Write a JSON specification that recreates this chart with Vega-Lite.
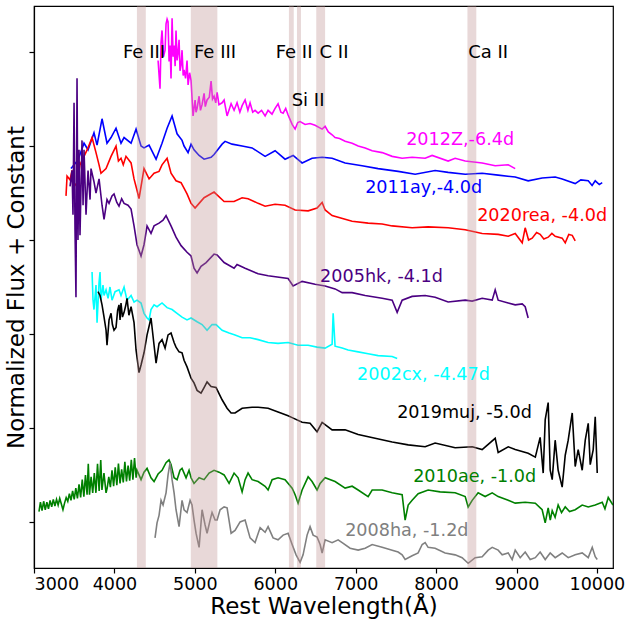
{
  "$schema": "https://vega.github.io/schema/vega-lite/v6.json",
  "width": 579,
  "height": 562,
  "autosize": {"type": "none"},
  "padding": {"left": 34, "top": 6, "right": 14, "bottom": 54},
  "background": "white",
  "config": {
    "view": {"stroke": "black", "strokeWidth": 1.2},
    "font": "DejaVu Sans",
    "axis": {"grid": false, "domainColor": "black", "tickColor": "black", "labelColor": "black", "titleColor": "black", "labelFont": "DejaVu Sans", "titleFont": "DejaVu Sans", "titleFontWeight": "normal", "domainWidth": 1.2, "tickWidth": 1.2, "tickSize": 5}
  },
  "datasets": {
    "spec": [
      {"s":"2012Z","w":4543,"f":4.91},{"s":"2012Z","w":4567,"f":4.61},{"s":"2012Z","w":4580,"f":5.10},{"s":"2012Z","w":4592,"f":5.23},{"s":"2012Z","w":4610,"f":4.95},{"s":"2012Z","w":4630,"f":5.02},{"s":"2012Z","w":4642,"f":5.30},{"s":"2012Z","w":4655,"f":5.35},{"s":"2012Z","w":4667,"f":5.32},{"s":"2012Z","w":4680,"f":4.90},{"s":"2012Z","w":4692,"f":5.07},{"s":"2012Z","w":4704,"f":4.72},{"s":"2012Z","w":4717,"f":5.36},{"s":"2012Z","w":4730,"f":4.95},{"s":"2012Z","w":4742,"f":5.07},{"s":"2012Z","w":4755,"f":4.85},{"s":"2012Z","w":4766,"f":5.23},{"s":"2012Z","w":4779,"f":4.91},{"s":"2012Z","w":4790,"f":4.98},{"s":"2012Z","w":4804,"f":5.13},{"s":"2012Z","w":4816,"f":4.80},{"s":"2012Z","w":4829,"f":4.86},{"s":"2012Z","w":4841,"f":5.02},{"s":"2012Z","w":4855,"f":4.75},{"s":"2012Z","w":4866,"f":4.81},{"s":"2012Z","w":4885,"f":4.72},{"s":"2012Z","w":4903,"f":4.91},{"s":"2012Z","w":4916,"f":4.65},{"s":"2012Z","w":4935,"f":4.78},{"s":"2012Z","w":4953,"f":4.70},{"s":"2012Z","w":4978,"f":4.32},{"s":"2012Z","w":5003,"f":4.49},{"s":"2012Z","w":5015,"f":4.36},{"s":"2012Z","w":5028,"f":4.40},{"s":"2012Z","w":5053,"f":4.53},{"s":"2012Z","w":5070,"f":4.38},{"s":"2012Z","w":5090,"f":4.44},{"s":"2012Z","w":5115,"f":4.56},{"s":"2012Z","w":5130,"f":4.42},{"s":"2012Z","w":5152,"f":4.49},{"s":"2012Z","w":5180,"f":4.52},{"s":"2012Z","w":5202,"f":4.69},{"s":"2012Z","w":5220,"f":4.50},{"s":"2012Z","w":5239,"f":4.53},{"s":"2012Z","w":5260,"f":4.46},{"s":"2012Z","w":5277,"f":4.57},{"s":"2012Z","w":5300,"f":4.44},{"s":"2012Z","w":5339,"f":4.46},{"s":"2012Z","w":5364,"f":4.49},{"s":"2012Z","w":5401,"f":4.32},{"s":"2012Z","w":5451,"f":4.45},{"s":"2012Z","w":5488,"f":4.38},{"s":"2012Z","w":5525,"f":4.46},{"s":"2012Z","w":5560,"f":4.36},{"s":"2012Z","w":5588,"f":4.43},{"s":"2012Z","w":5625,"f":4.49},{"s":"2012Z","w":5660,"f":4.38},{"s":"2012Z","w":5687,"f":4.46},{"s":"2012Z","w":5720,"f":4.36},{"s":"2012Z","w":5749,"f":4.38},{"s":"2012Z","w":5787,"f":4.35},{"s":"2012Z","w":5830,"f":4.38},{"s":"2012Z","w":5874,"f":4.32},{"s":"2012Z","w":5911,"f":4.38},{"s":"2012Z","w":5960,"f":4.34},{"s":"2012Z","w":5998,"f":4.40},{"s":"2012Z","w":6035,"f":4.45},{"s":"2012Z","w":6070,"f":4.36},{"s":"2012Z","w":6098,"f":4.35},{"s":"2012Z","w":6130,"f":4.40},{"s":"2012Z","w":6160,"f":4.33},{"s":"2012Z","w":6210,"f":4.23},{"s":"2012Z","w":6247,"f":4.18},{"s":"2012Z","w":6280,"f":4.25},{"s":"2012Z","w":6309,"f":4.26},{"s":"2012Z","w":6371,"f":4.23},{"s":"2012Z","w":6433,"f":4.24},{"s":"2012Z","w":6495,"f":4.22},{"s":"2012Z","w":6583,"f":4.18},{"s":"2012Z","w":6620,"f":4.21},{"s":"2012Z","w":6660,"f":4.15},{"s":"2012Z","w":6707,"f":4.12},{"s":"2012Z","w":6744,"f":4.09},{"s":"2012Z","w":6800,"f":4.08},{"s":"2012Z","w":6869,"f":4.05},{"s":"2012Z","w":6956,"f":4.03},{"s":"2012Z","w":7031,"f":4.00},{"s":"2012Z","w":7118,"f":3.98},{"s":"2012Z","w":7205,"f":3.95},{"s":"2012Z","w":7329,"f":3.93},{"s":"2012Z","w":7454,"f":3.89},{"s":"2012Z","w":7578,"f":3.87},{"s":"2012Z","w":7702,"f":3.88},{"s":"2012Z","w":7864,"f":3.87},{"s":"2012Z","w":7951,"f":3.90},{"s":"2012Z","w":8150,"f":3.84},{"s":"2012Z","w":8237,"f":3.87},{"s":"2012Z","w":8362,"f":3.84},{"s":"2012Z","w":8573,"f":3.82},{"s":"2012Z","w":8735,"f":3.79},{"s":"2012Z","w":8897,"f":3.80},{"s":"2012Z","w":8984,"f":3.76},

      {"s":"2011ay","w":3460,"f":3.76},{"s":"2011ay","w":3547,"f":3.85},{"s":"2011ay","w":3622,"f":4.03},{"s":"2011ay","w":3672,"f":3.96},{"s":"2011ay","w":3746,"f":4.14},{"s":"2011ay","w":3784,"f":4.01},{"s":"2011ay","w":3846,"f":4.29},{"s":"2011ay","w":3908,"f":4.03},{"s":"2011ay","w":3958,"f":4.09},{"s":"2011ay","w":4020,"f":4.19},{"s":"2011ay","w":4082,"f":4.03},{"s":"2011ay","w":4120,"f":4.09},{"s":"2011ay","w":4207,"f":4.03},{"s":"2011ay","w":4269,"f":4.18},{"s":"2011ay","w":4331,"f":4.00},{"s":"2011ay","w":4368,"f":3.98},{"s":"2011ay","w":4431,"f":4.01},{"s":"2011ay","w":4518,"f":3.86},{"s":"2011ay","w":4592,"f":4.03},{"s":"2011ay","w":4655,"f":4.19},{"s":"2011ay","w":4717,"f":4.32},{"s":"2011ay","w":4779,"f":4.13},{"s":"2011ay","w":4841,"f":4.06},{"s":"2011ay","w":4866,"f":4.00},{"s":"2011ay","w":4916,"f":3.93},{"s":"2011ay","w":4953,"f":4.02},{"s":"2011ay","w":4990,"f":3.96},{"s":"2011ay","w":5053,"f":3.90},{"s":"2011ay","w":5115,"f":3.86},{"s":"2011ay","w":5202,"f":3.88},{"s":"2011ay","w":5239,"f":3.91},{"s":"2011ay","w":5339,"f":4.02},{"s":"2011ay","w":5376,"f":4.05},{"s":"2011ay","w":5463,"f":4.02},{"s":"2011ay","w":5588,"f":4.00},{"s":"2011ay","w":5712,"f":3.98},{"s":"2011ay","w":5874,"f":3.89},{"s":"2011ay","w":5998,"f":3.95},{"s":"2011ay","w":6122,"f":3.86},{"s":"2011ay","w":6222,"f":3.90},{"s":"2011ay","w":6334,"f":3.82},{"s":"2011ay","w":6458,"f":3.87},{"s":"2011ay","w":6583,"f":3.88},{"s":"2011ay","w":6707,"f":3.87},{"s":"2011ay","w":6869,"f":3.82},{"s":"2011ay","w":7080,"f":3.79},{"s":"2011ay","w":7279,"f":3.76},{"s":"2011ay","w":7528,"f":3.73},{"s":"2011ay","w":7740,"f":3.70},{"s":"2011ay","w":7988,"f":3.74},{"s":"2011ay","w":8150,"f":3.72},{"s":"2011ay","w":8362,"f":3.70},{"s":"2011ay","w":8573,"f":3.71},{"s":"2011ay","w":8772,"f":3.69},{"s":"2011ay","w":8984,"f":3.67},{"s":"2011ay","w":9145,"f":3.63},{"s":"2011ay","w":9319,"f":3.66},{"s":"2011ay","w":9481,"f":3.67},{"s":"2011ay","w":9568,"f":3.65},{"s":"2011ay","w":9730,"f":3.60},{"s":"2011ay","w":9800,"f":3.64},{"s":"2011ay","w":9892,"f":3.63},{"s":"2011ay","w":9940,"f":3.58},{"s":"2011ay","w":9979,"f":3.63},{"s":"2011ay","w":10030,"f":3.59},{"s":"2011ay","w":10066,"f":3.61},

      {"s":"2020rea","w":3398,"f":3.47},{"s":"2020rea","w":3411,"f":3.68},{"s":"2020rea","w":3448,"f":3.64},{"s":"2020rea","w":3473,"f":3.74},{"s":"2020rea","w":3498,"f":3.57},{"s":"2020rea","w":3535,"f":3.61},{"s":"2020rea","w":3572,"f":3.80},{"s":"2020rea","w":3622,"f":3.89},{"s":"2020rea","w":3672,"f":3.98},{"s":"2020rea","w":3722,"f":4.09},{"s":"2020rea","w":3771,"f":3.93},{"s":"2020rea","w":3809,"f":3.80},{"s":"2020rea","w":3833,"f":3.71},{"s":"2020rea","w":3896,"f":3.76},{"s":"2020rea","w":3958,"f":3.89},{"s":"2020rea","w":4020,"f":4.00},{"s":"2020rea","w":4050,"f":3.84},{"s":"2020rea","w":4082,"f":3.87},{"s":"2020rea","w":4110,"f":3.80},{"s":"2020rea","w":4144,"f":3.89},{"s":"2020rea","w":4207,"f":3.82},{"s":"2020rea","w":4244,"f":3.65},{"s":"2020rea","w":4281,"f":3.53},{"s":"2020rea","w":4306,"f":3.44},{"s":"2020rea","w":4368,"f":3.76},{"s":"2020rea","w":4431,"f":3.65},{"s":"2020rea","w":4493,"f":3.71},{"s":"2020rea","w":4555,"f":3.73},{"s":"2020rea","w":4592,"f":3.80},{"s":"2020rea","w":4655,"f":3.87},{"s":"2020rea","w":4704,"f":3.71},{"s":"2020rea","w":4766,"f":3.63},{"s":"2020rea","w":4829,"f":3.61},{"s":"2020rea","w":4903,"f":3.49},{"s":"2020rea","w":4953,"f":3.39},{"s":"2020rea","w":5003,"f":3.34},{"s":"2020rea","w":5053,"f":3.39},{"s":"2020rea","w":5115,"f":3.45},{"s":"2020rea","w":5239,"f":3.51},{"s":"2020rea","w":5364,"f":3.41},{"s":"2020rea","w":5488,"f":3.41},{"s":"2020rea","w":5588,"f":3.45},{"s":"2020rea","w":5662,"f":3.44},{"s":"2020rea","w":5787,"f":3.39},{"s":"2020rea","w":5874,"f":3.36},{"s":"2020rea","w":5998,"f":3.38},{"s":"2020rea","w":6122,"f":3.37},{"s":"2020rea","w":6247,"f":3.32},{"s":"2020rea","w":6409,"f":3.31},{"s":"2020rea","w":6520,"f":3.34},{"s":"2020rea","w":6583,"f":3.40},{"s":"2020rea","w":6620,"f":3.32},{"s":"2020rea","w":6707,"f":3.26},{"s":"2020rea","w":6869,"f":3.22},{"s":"2020rea","w":6956,"f":3.20},{"s":"2020rea","w":7155,"f":3.18},{"s":"2020rea","w":7329,"f":3.17},{"s":"2020rea","w":7454,"f":3.15},{"s":"2020rea","w":7702,"f":3.13},{"s":"2020rea","w":7901,"f":3.14},{"s":"2020rea","w":8150,"f":3.13},{"s":"2020rea","w":8362,"f":3.11},{"s":"2020rea","w":8573,"f":3.07},{"s":"2020rea","w":8772,"f":3.06},{"s":"2020rea","w":8897,"f":3.04},{"s":"2020rea","w":8984,"f":3.07},{"s":"2020rea","w":9071,"f":2.97},{"s":"2020rea","w":9108,"f":3.13},{"s":"2020rea","w":9150,"f":3.00},{"s":"2020rea","w":9195,"f":3.02},{"s":"2020rea","w":9250,"f":3.08},{"s":"2020rea","w":9294,"f":3.06},{"s":"2020rea","w":9340,"f":3.01},{"s":"2020rea","w":9394,"f":3.03},{"s":"2020rea","w":9440,"f":3.07},{"s":"2020rea","w":9481,"f":3.04},{"s":"2020rea","w":9568,"f":3.02},{"s":"2020rea","w":9606,"f":2.97},{"s":"2020rea","w":9650,"f":3.06},{"s":"2020rea","w":9693,"f":3.05},{"s":"2020rea","w":9730,"f":2.99},

      {"s":"2005hk","w":3448,"f":3.57},{"s":"2005hk","w":3473,"f":3.74},{"s":"2005hk","w":3485,"f":3.27},{"s":"2005hk","w":3498,"f":4.46},{"s":"2005hk","w":3510,"f":3.11},{"s":"2005hk","w":3522,"f":2.39},{"s":"2005hk","w":3535,"f":4.72},{"s":"2005hk","w":3547,"f":3.00},{"s":"2005hk","w":3560,"f":3.96},{"s":"2005hk","w":3572,"f":3.05},{"s":"2005hk","w":3597,"f":4.06},{"s":"2005hk","w":3610,"f":3.37},{"s":"2005hk","w":3622,"f":3.96},{"s":"2005hk","w":3647,"f":3.27},{"s":"2005hk","w":3672,"f":3.74},{"s":"2005hk","w":3697,"f":3.43},{"s":"2005hk","w":3709,"f":3.76},{"s":"2005hk","w":3746,"f":3.62},{"s":"2005hk","w":3771,"f":3.50},{"s":"2005hk","w":3809,"f":3.65},{"s":"2005hk","w":3846,"f":3.37},{"s":"2005hk","w":3871,"f":3.22},{"s":"2005hk","w":3908,"f":3.43},{"s":"2005hk","w":3933,"f":3.39},{"s":"2005hk","w":3970,"f":3.47},{"s":"2005hk","w":3995,"f":3.49},{"s":"2005hk","w":4030,"f":3.40},{"s":"2005hk","w":4057,"f":3.36},{"s":"2005hk","w":4090,"f":3.44},{"s":"2005hk","w":4120,"f":3.39},{"s":"2005hk","w":4169,"f":3.37},{"s":"2005hk","w":4207,"f":3.33},{"s":"2005hk","w":4244,"f":3.15},{"s":"2005hk","w":4281,"f":2.95},{"s":"2005hk","w":4331,"f":2.83},{"s":"2005hk","w":4368,"f":2.95},{"s":"2005hk","w":4406,"f":3.15},{"s":"2005hk","w":4455,"f":3.07},{"s":"2005hk","w":4493,"f":3.15},{"s":"2005hk","w":4555,"f":3.18},{"s":"2005hk","w":4605,"f":3.21},{"s":"2005hk","w":4642,"f":3.26},{"s":"2005hk","w":4704,"f":3.15},{"s":"2005hk","w":4766,"f":3.03},{"s":"2005hk","w":4829,"f":2.94},{"s":"2005hk","w":4903,"f":2.87},{"s":"2005hk","w":4953,"f":2.83},{"s":"2005hk","w":4990,"f":2.70},{"s":"2005hk","w":5028,"f":2.65},{"s":"2005hk","w":5077,"f":2.72},{"s":"2005hk","w":5140,"f":2.76},{"s":"2005hk","w":5239,"f":2.85},{"s":"2005hk","w":5277,"f":2.84},{"s":"2005hk","w":5364,"f":2.76},{"s":"2005hk","w":5488,"f":2.70},{"s":"2005hk","w":5525,"f":2.74},{"s":"2005hk","w":5625,"f":2.70},{"s":"2005hk","w":5787,"f":2.64},{"s":"2005hk","w":5911,"f":2.62},{"s":"2005hk","w":6160,"f":2.59},{"s":"2005hk","w":6222,"f":2.51},{"s":"2005hk","w":6334,"f":2.56},{"s":"2005hk","w":6495,"f":2.53},{"s":"2005hk","w":6620,"f":2.51},{"s":"2005hk","w":6744,"f":2.48},{"s":"2005hk","w":6832,"f":2.44},{"s":"2005hk","w":6956,"f":2.44},{"s":"2005hk","w":7118,"f":2.41},{"s":"2005hk","w":7329,"f":2.38},{"s":"2005hk","w":7454,"f":2.36},{"s":"2005hk","w":7516,"f":2.23},{"s":"2005hk","w":7578,"f":2.36},{"s":"2005hk","w":7702,"f":2.40},{"s":"2005hk","w":7864,"f":2.41},{"s":"2005hk","w":7988,"f":2.39},{"s":"2005hk","w":8150,"f":2.34},{"s":"2005hk","w":8362,"f":2.36},{"s":"2005hk","w":8449,"f":2.35},{"s":"2005hk","w":8573,"f":2.38},{"s":"2005hk","w":8698,"f":2.36},{"s":"2005hk","w":8735,"f":2.47},{"s":"2005hk","w":8772,"f":2.36},{"s":"2005hk","w":8897,"f":2.33},{"s":"2005hk","w":8984,"f":2.31},{"s":"2005hk","w":9071,"f":2.32},{"s":"2005hk","w":9108,"f":2.29},{"s":"2005hk","w":9145,"f":2.17},

      {"s":"2002cx","w":3722,"f":2.66},{"s":"2002cx","w":3734,"f":2.36},{"s":"2002cx","w":3746,"f":2.26},{"s":"2002cx","w":3771,"f":2.52},{"s":"2002cx","w":3784,"f":2.12},{"s":"2002cx","w":3809,"f":2.55},{"s":"2002cx","w":3821,"f":2.66},{"s":"2002cx","w":3833,"f":2.36},{"s":"2002cx","w":3858,"f":2.52},{"s":"2002cx","w":3871,"f":2.41},{"s":"2002cx","w":3896,"f":2.47},{"s":"2002cx","w":3921,"f":2.38},{"s":"2002cx","w":3945,"f":2.50},{"s":"2002cx","w":3970,"f":2.36},{"s":"2002cx","w":4008,"f":2.45},{"s":"2002cx","w":4057,"f":2.47},{"s":"2002cx","w":4082,"f":2.41},{"s":"2002cx","w":4120,"f":2.50},{"s":"2002cx","w":4157,"f":2.36},{"s":"2002cx","w":4207,"f":2.41},{"s":"2002cx","w":4244,"f":2.34},{"s":"2002cx","w":4281,"f":2.36},{"s":"2002cx","w":4331,"f":2.33},{"s":"2002cx","w":4368,"f":2.22},{"s":"2002cx","w":4406,"f":2.17},{"s":"2002cx","w":4431,"f":2.15},{"s":"2002cx","w":4455,"f":2.26},{"s":"2002cx","w":4493,"f":2.31},{"s":"2002cx","w":4530,"f":2.29},{"s":"2002cx","w":4592,"f":2.33},{"s":"2002cx","w":4655,"f":2.28},{"s":"2002cx","w":4717,"f":2.26},{"s":"2002cx","w":4779,"f":2.22},{"s":"2002cx","w":4841,"f":2.18},{"s":"2002cx","w":4903,"f":2.15},{"s":"2002cx","w":4953,"f":2.17},{"s":"2002cx","w":5028,"f":2.13},{"s":"2002cx","w":5090,"f":2.10},{"s":"2002cx","w":5152,"f":2.04},{"s":"2002cx","w":5214,"f":2.10},{"s":"2002cx","w":5264,"f":2.10},{"s":"2002cx","w":5339,"f":2.04},{"s":"2002cx","w":5426,"f":2.01},{"s":"2002cx","w":5500,"f":1.99},{"s":"2002cx","w":5588,"f":1.96},{"s":"2002cx","w":5687,"f":1.96},{"s":"2002cx","w":5787,"f":1.94},{"s":"2002cx","w":5911,"f":1.91},{"s":"2002cx","w":6035,"f":1.90},{"s":"2002cx","w":6160,"f":1.91},{"s":"2002cx","w":6284,"f":1.88},{"s":"2002cx","w":6409,"f":1.88},{"s":"2002cx","w":6520,"f":1.86},{"s":"2002cx","w":6620,"f":1.85},{"s":"2002cx","w":6707,"f":1.89},{"s":"2002cx","w":6720,"f":2.22},{"s":"2002cx","w":6744,"f":1.87},{"s":"2002cx","w":6832,"f":1.85},{"s":"2002cx","w":6906,"f":1.83},{"s":"2002cx","w":7031,"f":1.81},{"s":"2002cx","w":7155,"f":1.79},{"s":"2002cx","w":7279,"f":1.77},{"s":"2002cx","w":7454,"f":1.76},{"s":"2002cx","w":7516,"f":1.74},

      {"s":"2019muj","w":3796,"f":2.45},{"s":"2019muj","w":3821,"f":2.41},{"s":"2019muj","w":3846,"f":2.31},{"s":"2019muj","w":3871,"f":2.18},{"s":"2019muj","w":3896,"f":2.04},{"s":"2019muj","w":3908,"f":1.88},{"s":"2019muj","w":3933,"f":2.15},{"s":"2019muj","w":3958,"f":2.22},{"s":"2019muj","w":3975,"f":2.10},{"s":"2019muj","w":3995,"f":2.04},{"s":"2019muj","w":4020,"f":2.07},{"s":"2019muj","w":4040,"f":2.25},{"s":"2019muj","w":4057,"f":2.31},{"s":"2019muj","w":4070,"f":2.15},{"s":"2019muj","w":4082,"f":2.33},{"s":"2019muj","w":4100,"f":2.18},{"s":"2019muj","w":4120,"f":2.23},{"s":"2019muj","w":4140,"f":2.30},{"s":"2019muj","w":4157,"f":2.38},{"s":"2019muj","w":4180,"f":2.20},{"s":"2019muj","w":4207,"f":2.29},{"s":"2019muj","w":4244,"f":2.12},{"s":"2019muj","w":4269,"f":1.83},{"s":"2019muj","w":4306,"f":1.59},{"s":"2019muj","w":4331,"f":1.67},{"s":"2019muj","w":4368,"f":1.80},{"s":"2019muj","w":4406,"f":1.99},{"s":"2019muj","w":4455,"f":2.17},{"s":"2019muj","w":4493,"f":1.88},{"s":"2019muj","w":4518,"f":1.69},{"s":"2019muj","w":4555,"f":1.90},{"s":"2019muj","w":4592,"f":1.94},{"s":"2019muj","w":4630,"f":1.85},{"s":"2019muj","w":4667,"f":1.99},{"s":"2019muj","w":4704,"f":2.01},{"s":"2019muj","w":4742,"f":1.91},{"s":"2019muj","w":4766,"f":1.86},{"s":"2019muj","w":4804,"f":1.81},{"s":"2019muj","w":4841,"f":1.80},{"s":"2019muj","w":4866,"f":1.72},{"s":"2019muj","w":4903,"f":1.65},{"s":"2019muj","w":4953,"f":1.53},{"s":"2019muj","w":4990,"f":1.48},{"s":"2019muj","w":5028,"f":1.40},{"s":"2019muj","w":5077,"f":1.37},{"s":"2019muj","w":5115,"f":1.43},{"s":"2019muj","w":5152,"f":1.49},{"s":"2019muj","w":5202,"f":1.44},{"s":"2019muj","w":5264,"f":1.43},{"s":"2019muj","w":5339,"f":1.30},{"s":"2019muj","w":5401,"f":1.21},{"s":"2019muj","w":5451,"f":1.16},{"s":"2019muj","w":5500,"f":1.16},{"s":"2019muj","w":5588,"f":1.21},{"s":"2019muj","w":5712,"f":1.22},{"s":"2019muj","w":5787,"f":1.22},{"s":"2019muj","w":5911,"f":1.21},{"s":"2019muj","w":6035,"f":1.17},{"s":"2019muj","w":6160,"f":1.13},{"s":"2019muj","w":6210,"f":1.11},{"s":"2019muj","w":6334,"f":1.06},{"s":"2019muj","w":6433,"f":1.05},{"s":"2019muj","w":6520,"f":0.96},{"s":"2019muj","w":6583,"f":1.06},{"s":"2019muj","w":6707,"f":0.98},{"s":"2019muj","w":6869,"f":0.98},{"s":"2019muj","w":7031,"f":0.93},{"s":"2019muj","w":7242,"f":0.89},{"s":"2019muj","w":7454,"f":0.85},{"s":"2019muj","w":7653,"f":0.82},{"s":"2019muj","w":7864,"f":0.80},{"s":"2019muj","w":7988,"f":0.84},{"s":"2019muj","w":8237,"f":0.79},{"s":"2019muj","w":8449,"f":0.80},{"s":"2019muj","w":8573,"f":0.77},{"s":"2019muj","w":8735,"f":0.89},{"s":"2019muj","w":8772,"f":0.74},{"s":"2019muj","w":8897,"f":0.80},{"s":"2019muj","w":8984,"f":0.77},{"s":"2019muj","w":9145,"f":0.73},{"s":"2019muj","w":9234,"f":0.69},{"s":"2019muj","w":9294,"f":0.90},{"s":"2019muj","w":9332,"f":0.52},{"s":"2019muj","w":9357,"f":1.09},{"s":"2019muj","w":9394,"f":1.27},{"s":"2019muj","w":9419,"f":0.55},{"s":"2019muj","w":9444,"f":0.45},{"s":"2019muj","w":9481,"f":0.87},{"s":"2019muj","w":9518,"f":0.55},{"s":"2019muj","w":9568,"f":0.37},{"s":"2019muj","w":9606,"f":0.71},{"s":"2019muj","w":9643,"f":0.87},{"s":"2019muj","w":9693,"f":1.16},{"s":"2019muj","w":9730,"f":0.59},{"s":"2019muj","w":9767,"f":0.77},{"s":"2019muj","w":9817,"f":0.55},{"s":"2019muj","w":9855,"f":0.87},{"s":"2019muj","w":9892,"f":1.05},{"s":"2019muj","w":9917,"f":0.61},{"s":"2019muj","w":9954,"f":0.77},{"s":"2019muj","w":9979,"f":1.12},{"s":"2019muj","w":10004,"f":0.52},

      {"s":"2010ae","w":3062,"f":0.11},{"s":"2010ae","w":3080,"f":0.21},{"s":"2010ae","w":3100,"f":0.12},{"s":"2010ae","w":3120,"f":0.22},{"s":"2010ae","w":3140,"f":0.13},{"s":"2010ae","w":3160,"f":0.21},{"s":"2010ae","w":3180,"f":0.14},{"s":"2010ae","w":3200,"f":0.23},{"s":"2010ae","w":3220,"f":0.16},{"s":"2010ae","w":3240,"f":0.24},{"s":"2010ae","w":3260,"f":0.17},{"s":"2010ae","w":3280,"f":0.24},{"s":"2010ae","w":3300,"f":0.18},{"s":"2010ae","w":3320,"f":0.25},{"s":"2010ae","w":3340,"f":0.19},{"s":"2010ae","w":3360,"f":0.13},{"s":"2010ae","w":3380,"f":0.20},{"s":"2010ae","w":3400,"f":0.26},{"s":"2010ae","w":3420,"f":0.22},{"s":"2010ae","w":3440,"f":0.30},{"s":"2010ae","w":3460,"f":0.23},{"s":"2010ae","w":3480,"f":0.33},{"s":"2010ae","w":3500,"f":0.24},{"s":"2010ae","w":3520,"f":0.36},{"s":"2010ae","w":3540,"f":0.25},{"s":"2010ae","w":3560,"f":0.40},{"s":"2010ae","w":3580,"f":0.26},{"s":"2010ae","w":3600,"f":0.45},{"s":"2010ae","w":3620,"f":0.27},{"s":"2010ae","w":3640,"f":0.50},{"s":"2010ae","w":3660,"f":0.29},{"s":"2010ae","w":3675,"f":0.62},{"s":"2010ae","w":3690,"f":0.29},{"s":"2010ae","w":3710,"f":0.48},{"s":"2010ae","w":3730,"f":0.31},{"s":"2010ae","w":3750,"f":0.52},{"s":"2010ae","w":3770,"f":0.31},{"s":"2010ae","w":3790,"f":0.62},{"s":"2010ae","w":3810,"f":0.33},{"s":"2010ae","w":3830,"f":0.66},{"s":"2010ae","w":3845,"f":0.34},{"s":"2010ae","w":3870,"f":0.52},{"s":"2010ae","w":3896,"f":0.31},{"s":"2010ae","w":3910,"f":0.36},{"s":"2010ae","w":3930,"f":0.48},{"s":"2010ae","w":3950,"f":0.37},{"s":"2010ae","w":3970,"f":0.55},{"s":"2010ae","w":3990,"f":0.38},{"s":"2010ae","w":4010,"f":0.58},{"s":"2010ae","w":4030,"f":0.39},{"s":"2010ae","w":4050,"f":0.62},{"s":"2010ae","w":4070,"f":0.41},{"s":"2010ae","w":4090,"f":0.56},{"s":"2010ae","w":4110,"f":0.42},{"s":"2010ae","w":4130,"f":0.64},{"s":"2010ae","w":4150,"f":0.43},{"s":"2010ae","w":4170,"f":0.60},{"s":"2010ae","w":4190,"f":0.44},{"s":"2010ae","w":4210,"f":0.66},{"s":"2010ae","w":4230,"f":0.45},{"s":"2010ae","w":4250,"f":0.68},{"s":"2010ae","w":4270,"f":0.47},{"s":"2010ae","w":4281,"f":0.55},{"s":"2010ae","w":4331,"f":0.45},{"s":"2010ae","w":4368,"f":0.53},{"s":"2010ae","w":4406,"f":0.57},{"s":"2010ae","w":4455,"f":0.47},{"s":"2010ae","w":4493,"f":0.43},{"s":"2010ae","w":4543,"f":0.51},{"s":"2010ae","w":4592,"f":0.55},{"s":"2010ae","w":4642,"f":0.63},{"s":"2010ae","w":4679,"f":0.66},{"s":"2010ae","w":4704,"f":0.61},{"s":"2010ae","w":4742,"f":0.47},{"s":"2010ae","w":4779,"f":0.45},{"s":"2010ae","w":4816,"f":0.55},{"s":"2010ae","w":4841,"f":0.57},{"s":"2010ae","w":4891,"f":0.47},{"s":"2010ae","w":4928,"f":0.55},{"s":"2010ae","w":4953,"f":0.47},{"s":"2010ae","w":4990,"f":0.41},{"s":"2010ae","w":5053,"f":0.47},{"s":"2010ae","w":5115,"f":0.45},{"s":"2010ae","w":5177,"f":0.52},{"s":"2010ae","w":5239,"f":0.55},{"s":"2010ae","w":5301,"f":0.53},{"s":"2010ae","w":5364,"f":0.50},{"s":"2010ae","w":5426,"f":0.41},{"s":"2010ae","w":5488,"f":0.52},{"s":"2010ae","w":5538,"f":0.47},{"s":"2010ae","w":5588,"f":0.32},{"s":"2010ae","w":5625,"f":0.45},{"s":"2010ae","w":5662,"f":0.52},{"s":"2010ae","w":5712,"f":0.45},{"s":"2010ae","w":5787,"f":0.43},{"s":"2010ae","w":5874,"f":0.38},{"s":"2010ae","w":5911,"f":0.34},{"s":"2010ae","w":5961,"f":0.45},{"s":"2010ae","w":6035,"f":0.47},{"s":"2010ae","w":6122,"f":0.45},{"s":"2010ae","w":6210,"f":0.36},{"s":"2010ae","w":6247,"f":0.29},{"s":"2010ae","w":6284,"f":0.20},{"s":"2010ae","w":6334,"f":0.34},{"s":"2010ae","w":6409,"f":0.48},{"s":"2010ae","w":6458,"f":0.43},{"s":"2010ae","w":6520,"f":0.34},{"s":"2010ae","w":6558,"f":0.41},{"s":"2010ae","w":6620,"f":0.47},{"s":"2010ae","w":6744,"f":0.43},{"s":"2010ae","w":6869,"f":0.36},{"s":"2010ae","w":6956,"f":0.38},{"s":"2010ae","w":7031,"f":0.34},{"s":"2010ae","w":7155,"f":0.27},{"s":"2010ae","w":7205,"f":0.34},{"s":"2010ae","w":7329,"f":0.34},{"s":"2010ae","w":7454,"f":0.31},{"s":"2010ae","w":7578,"f":0.29},{"s":"2010ae","w":7615,"f":0.02},{"s":"2010ae","w":7653,"f":0.18},{"s":"2010ae","w":7702,"f":0.23},{"s":"2010ae","w":7777,"f":0.30},{"s":"2010ae","w":7901,"f":0.34},{"s":"2010ae","w":8050,"f":0.32},{"s":"2010ae","w":8237,"f":0.31},{"s":"2010ae","w":8362,"f":0.27},{"s":"2010ae","w":8399,"f":0.16},{"s":"2010ae","w":8449,"f":0.23},{"s":"2010ae","w":8523,"f":0.31},{"s":"2010ae","w":8610,"f":0.27},{"s":"2010ae","w":8698,"f":0.31},{"s":"2010ae","w":8772,"f":0.27},{"s":"2010ae","w":8897,"f":0.23},{"s":"2010ae","w":8984,"f":0.20},{"s":"2010ae","w":9108,"f":0.21},{"s":"2010ae","w":9234,"f":0.20},{"s":"2010ae","w":9319,"f":0.13},{"s":"2010ae","w":9357,"f":-0.01},{"s":"2010ae","w":9394,"f":0.15},{"s":"2010ae","w":9420,"f":0.02},{"s":"2010ae","w":9444,"f":0.12},{"s":"2010ae","w":9480,"f":0.05},{"s":"2010ae","w":9518,"f":0.18},{"s":"2010ae","w":9560,"f":0.10},{"s":"2010ae","w":9606,"f":0.16},{"s":"2010ae","w":9660,"f":0.11},{"s":"2010ae","w":9730,"f":0.13},{"s":"2010ae","w":9817,"f":0.18},{"s":"2010ae","w":9892,"f":0.16},{"s":"2010ae","w":9979,"f":0.18},{"s":"2010ae","w":10066,"f":0.21},{"s":"2010ae","w":10100,"f":0.14},{"s":"2010ae","w":10141,"f":0.26},{"s":"2010ae","w":10200,"f":0.18},

      {"s":"2008ha","w":4505,"f":-0.17},{"s":"2008ha","w":4530,"f":-0.01},{"s":"2008ha","w":4555,"f":0.07},{"s":"2008ha","w":4580,"f":0.23},{"s":"2008ha","w":4605,"f":0.18},{"s":"2008ha","w":4642,"f":0.31},{"s":"2008ha","w":4667,"f":0.50},{"s":"2008ha","w":4692,"f":0.63},{"s":"2008ha","w":4717,"f":0.45},{"s":"2008ha","w":4742,"f":0.31},{"s":"2008ha","w":4766,"f":0.13},{"s":"2008ha","w":4804,"f":-0.05},{"s":"2008ha","w":4841,"f":0.23},{"s":"2008ha","w":4866,"f":0.13},{"s":"2008ha","w":4903,"f":0.10},{"s":"2008ha","w":4941,"f":0.23},{"s":"2008ha","w":4965,"f":0.18},{"s":"2008ha","w":4990,"f":0.02},{"s":"2008ha","w":5015,"f":-0.12},{"s":"2008ha","w":5053,"f":-0.27},{"s":"2008ha","w":5090,"f":0.13},{"s":"2008ha","w":5127,"f":-0.03},{"s":"2008ha","w":5152,"f":-0.12},{"s":"2008ha","w":5190,"f":0.02},{"s":"2008ha","w":5214,"f":0.10},{"s":"2008ha","w":5252,"f":0.02},{"s":"2008ha","w":5277,"f":0.02},{"s":"2008ha","w":5314,"f":0.13},{"s":"2008ha","w":5364,"f":0.16},{"s":"2008ha","w":5401,"f":0.15},{"s":"2008ha","w":5451,"f":-0.12},{"s":"2008ha","w":5500,"f":-0.09},{"s":"2008ha","w":5563,"f":0.00},{"s":"2008ha","w":5625,"f":0.02},{"s":"2008ha","w":5687,"f":-0.17},{"s":"2008ha","w":5749,"f":-0.22},{"s":"2008ha","w":5812,"f":-0.06},{"s":"2008ha","w":5874,"f":-0.11},{"s":"2008ha","w":5911,"f":-0.05},{"s":"2008ha","w":5973,"f":-0.17},{"s":"2008ha","w":6035,"f":-0.19},{"s":"2008ha","w":6098,"f":-0.14},{"s":"2008ha","w":6160,"f":-0.12},{"s":"2008ha","w":6210,"f":-0.24},{"s":"2008ha","w":6259,"f":-0.35},{"s":"2008ha","w":6309,"f":-0.43},{"s":"2008ha","w":6346,"f":-0.35},{"s":"2008ha","w":6396,"f":-0.14},{"s":"2008ha","w":6433,"f":-0.05},{"s":"2008ha","w":6471,"f":-0.14},{"s":"2008ha","w":6520,"f":-0.16},{"s":"2008ha","w":6558,"f":-0.24},{"s":"2008ha","w":6583,"f":-0.33},{"s":"2008ha","w":6620,"f":-0.19},{"s":"2008ha","w":6707,"f":-0.22},{"s":"2008ha","w":6782,"f":-0.19},{"s":"2008ha","w":6832,"f":-0.22},{"s":"2008ha","w":6931,"f":-0.28},{"s":"2008ha","w":7031,"f":-0.30},{"s":"2008ha","w":7118,"f":-0.28},{"s":"2008ha","w":7205,"f":-0.24},{"s":"2008ha","w":7329,"f":-0.27},{"s":"2008ha","w":7454,"f":-0.30},{"s":"2008ha","w":7528,"f":-0.32},{"s":"2008ha","w":7578,"f":-0.35},{"s":"2008ha","w":7615,"f":-0.40},{"s":"2008ha","w":7702,"f":-0.36},{"s":"2008ha","w":7777,"f":-0.33},{"s":"2008ha","w":7827,"f":-0.24},{"s":"2008ha","w":7864,"f":-0.22},{"s":"2008ha","w":7901,"f":-0.27},{"s":"2008ha","w":7988,"f":-0.28},{"s":"2008ha","w":8112,"f":-0.33},{"s":"2008ha","w":8237,"f":-0.35},{"s":"2008ha","w":8324,"f":-0.38},{"s":"2008ha","w":8399,"f":-0.44},{"s":"2008ha","w":8486,"f":-0.38},{"s":"2008ha","w":8573,"f":-0.37},{"s":"2008ha","w":8648,"f":-0.30},{"s":"2008ha","w":8698,"f":-0.27},{"s":"2008ha","w":8772,"f":-0.30},{"s":"2008ha","w":8822,"f":-0.35},{"s":"2008ha","w":8897,"f":-0.33},{"s":"2008ha","w":8946,"f":-0.40},{"s":"2008ha","w":8984,"f":-0.30},{"s":"2008ha","w":9046,"f":-0.38},{"s":"2008ha","w":9108,"f":-0.32},{"s":"2008ha","w":9170,"f":-0.40},{"s":"2008ha","w":9234,"f":-0.38},{"s":"2008ha","w":9294,"f":-0.32},{"s":"2008ha","w":9357,"f":-0.40},{"s":"2008ha","w":9419,"f":-0.33},{"s":"2008ha","w":9481,"f":-0.38},{"s":"2008ha","w":9568,"f":-0.33},{"s":"2008ha","w":9643,"f":-0.38},{"s":"2008ha","w":9730,"f":-0.35},{"s":"2008ha","w":9817,"f":-0.33},{"s":"2008ha","w":9892,"f":-0.38},{"s":"2008ha","w":9942,"f":-0.27},{"s":"2008ha","w":9979,"f":-0.37},{"s":"2008ha","w":10004,"f":-0.40}
    ],
    "bands": [
      {"a":4280,"b":4390},{"a":4950,"b":5280},{"a":6170,"b":6230},{"a":6270,"b":6320},{"a":6510,"b":6620},{"a":8390,"b":8500}
    ],
    "ions": [
      {"t":"Fe III","w":4368,"f":4.99},{"t":"Fe III","w":5251,"f":4.99},{"t":"Fe II","w":6234,"f":4.99},{"t":"C II","w":6731,"f":4.99},{"t":"Ca II","w":8647,"f":4.99},{"t":"Si II","w":6408,"f":4.48}
    ],
    "names": [
      {"t":"2012Z,-6.4d","w":7628,"f":4.06,"c":"#ff00ff"},
      {"t":"2011ay,-4.0d","w":7118,"f":3.55,"c":"#0000ff"},
      {"t":"2020rea, -4.0d","w":8511,"f":3.26,"c":"#ff0000"},
      {"t":"2005hk, -4.1d","w":6558,"f":2.61,"c":"#4b0082"},
      {"t":"2002cx, -4.47d","w":7018,"f":1.56,"c":"#00ffff"},
      {"t":"2019muj, -5.0d","w":7516,"f":1.16,"c":"#000000"},
      {"t":"2010ae, -1.0d","w":7715,"f":0.48,"c":"#008000"},
      {"t":"2008ha, -1.2d","w":6869,"f":-0.10,"c":"#808080"}
    ]
  },
  "layer": [
    {
      "data": {"name": "spec"},
      "mark": {"type": "line", "strokeWidth": 1.6, "clip": true},
      "encoding": {
        "x": {"field": "w", "type": "quantitative", "scale": {"domain": [3000, 10200], "nice": false, "zero": false},
              "axis": {"title": "Rest Wavelength(Å)", "values": [3000,4000,5000,6000,7000,8000,9000,10000], "labelFontSize": 17.5, "titleFontSize": 23, "labelPadding": 2, "titlePadding": 3, "format": "d"}},
        "y": {"field": "f", "type": "quantitative", "scale": {"domain": [-0.49, 5.49], "nice": false, "zero": false},
              "axis": {"title": "Normalized Flux + Constant", "values": [0,1,2,3,4,5], "labels": false, "titleFontSize": 23, "titlePadding": 0}},
        "color": {"field": "s", "type": "nominal", "legend": null,
                  "scale": {"domain": ["2012Z","2011ay","2020rea","2005hk","2002cx","2019muj","2010ae","2008ha"],
                            "range": ["#ff00ff","#0000ff","#ff0000","#4b0082","#00ffff","#000000","#008000","#808080"]}},
        "detail": {"field": "s"}
      }
    },
    {
      "data": {"name": "bands"},
      "mark": {"type": "rect", "color": "#bc8f8f", "opacity": 0.35},
      "encoding": {
        "x": {"field": "a", "type": "quantitative"},
        "x2": {"field": "b"}
      }
    },
    {
      "data": {"name": "ions"},
      "mark": {"type": "text", "fontSize": 18, "color": "black", "align": "center", "baseline": "middle"},
      "encoding": {
        "x": {"field": "w", "type": "quantitative"},
        "y": {"field": "f", "type": "quantitative"},
        "text": {"field": "t"}
      }
    },
    {
      "data": {"name": "names"},
      "mark": {"type": "text", "fontSize": 17.6, "align": "left", "baseline": "middle"},
      "encoding": {
        "x": {"field": "w", "type": "quantitative"},
        "y": {"field": "f", "type": "quantitative"},
        "text": {"field": "t"},
        "color": {"field": "c", "type": "nominal", "scale": null}
      }
    }
  ]
}
